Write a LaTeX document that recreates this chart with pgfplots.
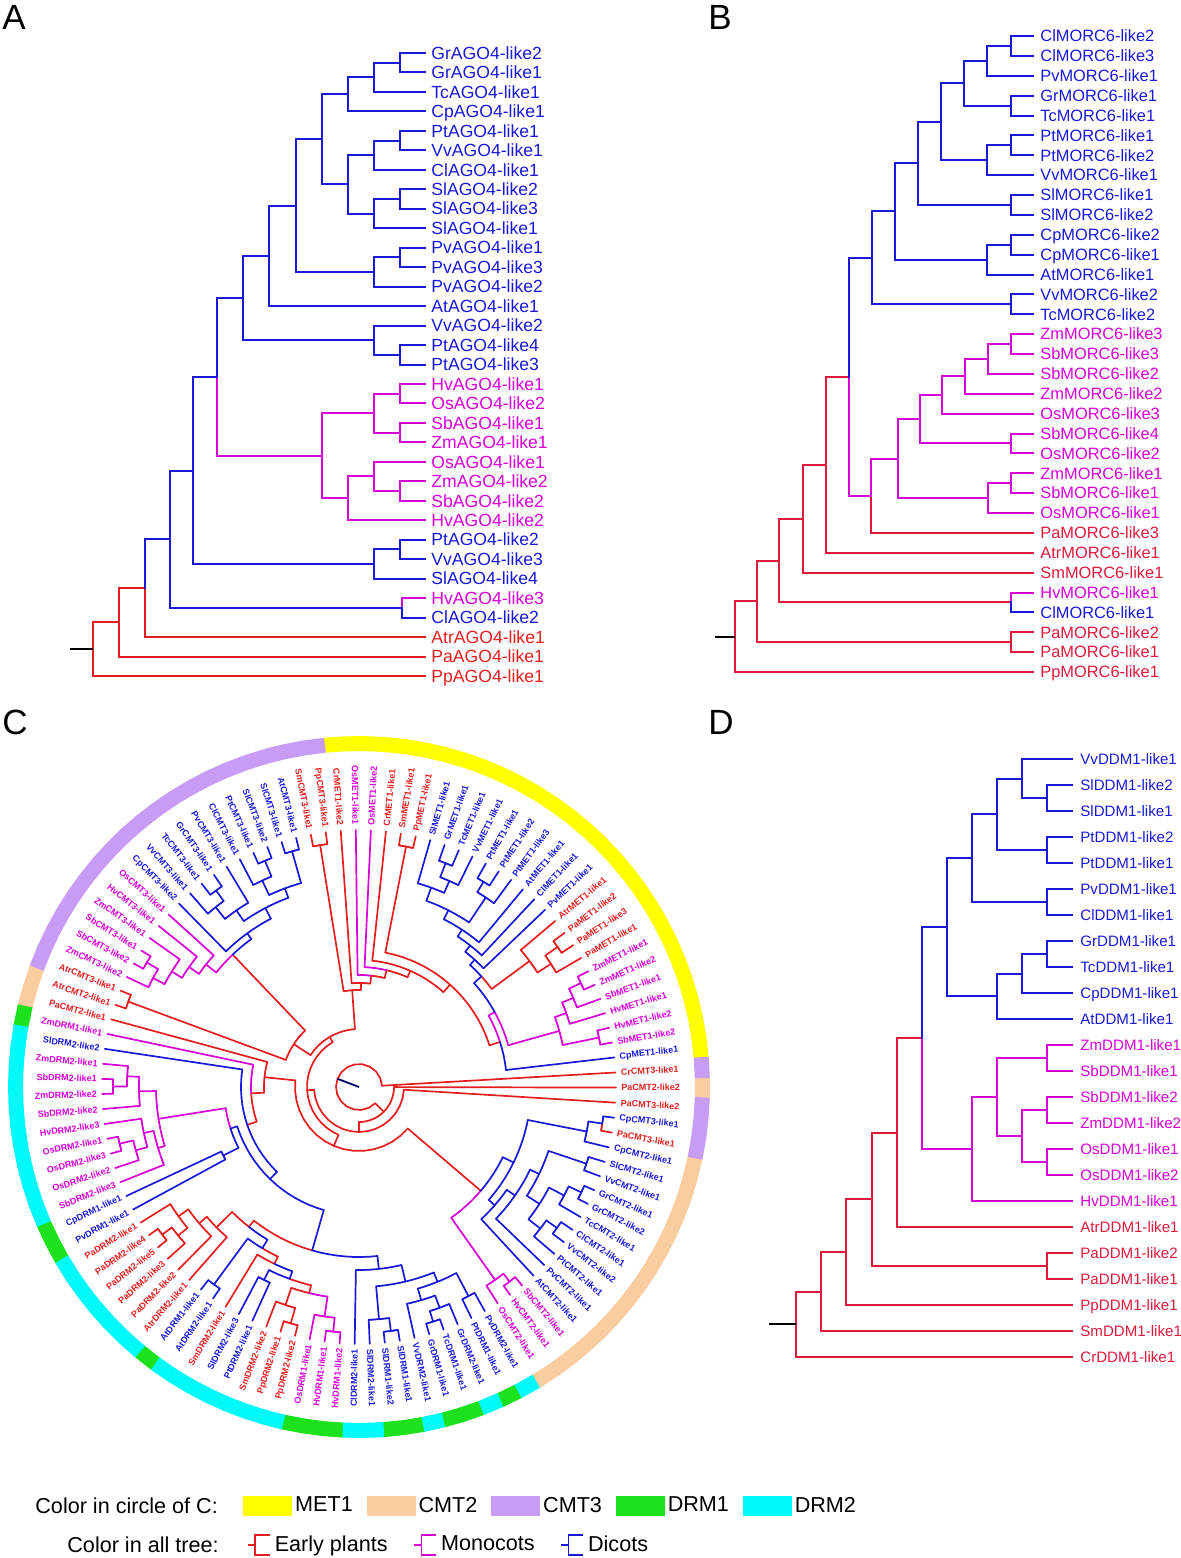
\documentclass[border=0pt]{standalone}
\usepackage{fontspec}
\setmainfont{Liberation Sans}
\usepackage{pgfplots}
\usepackage{pgfplotstable}
\pgfplotsset{compat=1.18}

\definecolor{tblue}{RGB}{25,25,215}
\definecolor{tmag}{RGB}{215,0,215}
\definecolor{tred}{RGB}{228,30,30}
\definecolor{tcrim}{RGB}{222,25,60}
\definecolor{rMET}{RGB}{255,255,0}
\definecolor{rCMTtwo}{RGB}{250,205,160}
\definecolor{rCMTthree}{RGB}{200,155,245}
\definecolor{rDRMone}{RGB}{30,225,30}
\definecolor{rDRMtwo}{RGB}{0,250,250}

% ---------- Tree A (AGO4): child pos, parent pos, parent depth, child depth, colour class
\pgfplotstableread{
pc pp rp rc c
1 1.5 400 425 2
2 1.5 400 425 2
3 2.25 374 425 2
1.5 2.25 374 400 2
2.25 3.125 347.7 374 2
4 3.125 347.7 425 2
5.5 6.25 374 400 2
5 5.5 400 425 2
6 5.5 400 425 2
7 6.25 374 425 2
6.25 7.75 347.7 374 2
8.5 9.25 374 400 2
8 8.5 400 425 2
9 8.5 400 425 2
10 9.25 374 425 2
9.25 7.75 347.7 374 2
3.125 5.4375 321.7 347.7 2
7.75 5.4375 321.7 347.7 2
5.4375 8.84375 295.7 321.7 2
11.5 12.25 374 400 2
11 11.5 400 425 2
12 11.5 400 425 2
13 12.25 374 425 2
12.25 8.84375 295.7 374 2
8.84375 11.421875 269.3 295.7 2
14 11.421875 269.3 425 2
11.421875 13.5859 243.3 269.3 2
15 15.75 374 425 2
16.5 15.75 374 400 2
16 16.5 400 425 2
17 16.5 400 425 2
15.75 13.5859 243.3 374 2
13.5859 17.6367 217 243.3 2
18 18.5 400 425 1
19 18.5 400 425 1
20 20.5 400 425 1
21 20.5 400 425 1
18.5 19.5 374 400 1
20.5 19.5 374 400 1
19.5 21.6875 322 374 1
22 22.75 374 425 1
23 23.5 400 425 1
24 23.5 400 425 1
23.5 22.75 374 400 1
22.75 23.875 348 374 1
25 23.875 348 425 1
23.875 21.6875 322 348 1
21.6875 17.6367 217 322 1
17.6367 22.4434 192.7 217 2
26 26.5 400 425 2
27 26.5 400 425 2
26.5 27.25 374 400 2
28 27.25 374 425 2
27.25 22.4434 192.7 374 2
22.4434 25.9717 170 192.7 2
29 29.5 402 425 1
30 29.5 402 425 2
29.5 25.9717 170 402 2
25.9717 28.4858 145.3 170 2
31 28.4858 145.3 425 0
28.4858 30.2429 119.3 145.3 0
32 30.2429 119.3 425 0
30.2429 31.6215 93 119.3 0
33 31.6215 93 425 0
}\Aedges

\pgfplotstableread{
i c label
1 2 GrAGO4-like2
2 2 GrAGO4-like1
3 2 TcAGO4-like1
4 2 CpAGO4-like1
5 2 PtAGO4-like1
6 2 VvAGO4-like1
7 2 ClAGO4-like1
8 2 SlAGO4-like2
9 2 SlAGO4-like3
10 2 SlAGO4-like1
11 2 PvAGO4-like1
12 2 PvAGO4-like3
13 2 PvAGO4-like2
14 2 AtAGO4-like1
15 2 VvAGO4-like2
16 2 PtAGO4-like4
17 2 PtAGO4-like3
18 1 HvAGO4-like1
19 1 OsAGO4-like2
20 1 SbAGO4-like1
21 1 ZmAGO4-like1
22 1 OsAGO4-like1
23 1 ZmAGO4-like2
24 1 SbAGO4-like2
25 1 HvAGO4-like2
26 2 PtAGO4-like2
27 2 VvAGO4-like3
28 2 SlAGO4-like4
29 1 HvAGO4-like3
30 2 ClAGO4-like2
31 0 AtrAGO4-like1
32 0 PaAGO4-like1
33 0 PpAGO4-like1
}\Alabels

% ---------- Tree B (MORC6)
\pgfplotstableread{
pc pp rp rc c
1 1.5 1010.7 1033 2
2 1.5 1010.7 1033 2
1.5 2.25 987.3 1010.7 2
3 2.25 987.3 1033 2
2.25 3.375 964.3 987.3 2
4 4.5 1010.7 1033 2
5 4.5 1010.7 1033 2
4.5 3.375 964.3 1010.7 2
3.375 5.3125 941 964.3 2
6 6.5 1010.7 1033 2
7 6.5 1010.7 1033 2
6.5 7.25 987.3 1010.7 2
8 7.25 987.3 1033 2
7.25 5.3125 941 987.3 2
5.3125 7.40625 918.3 941 2
9 9.5 1010.7 1033 2
10 9.5 1010.7 1033 2
9.5 7.40625 918.3 1010.7 2
7.40625 9.828125 895.3 918.3 2
11 11.5 1010.7 1033 2
12 11.5 1010.7 1033 2
11.5 12.25 987.3 1010.7 2
13 12.25 987.3 1033 2
12.25 9.828125 895.3 987.3 2
9.828125 12.1640625 872.3 895.3 2
14 14.5 1010.7 1033 2
15 14.5 1010.7 1033 2
14.5 12.1640625 872.3 1010.7 2
12.1640625 18.1484 849 872.3 2
16 16.5 1011 1033 1
17 16.5 1011 1033 1
16.5 17.25 988 1011 1
18 17.25 988 1033 1
17.25 18.125 965 988 1
19 18.125 965 1033 1
18.125 19.0625 942 965 1
20 19.0625 942 1033 1
19.0625 20.28125 920 942 1
21 21.5 1011 1033 1
22 21.5 1011 1033 1
21.5 20.28125 920 1011 1
20.28125 22.265625 898 920 1
23 23.5 1011 1033 1
24 23.5 1011 1033 1
23.5 24.25 988 1011 1
25 24.25 988 1033 1
24.25 22.265625 898 988 1
22.265625 24.1328 871.3 898 1
26 24.1328 871.3 1033 0
24.1328 18.1484 849 871.3 1
18.1484 22.5742 826 849 0
27 22.5742 826 1033 0
22.5742 25.2871 803 826 0
28 25.2871 803 1033 0
25.2871 27.3936 779.3 803 0
29 29.5 1011 1033 1
30 29.5 1011 1033 2
29.5 27.3936 779.3 1011 0
27.3936 29.4468 756.7 779.3 0
31 31.5 1011 1033 0
32 31.5 1011 1033 0
31.5 29.4468 756.7 1011 0
29.4468 31.2234 735 756.7 0
33 31.2234 735 1033 0
}\Bedges

\pgfplotstableread{
i c label
1 2 ClMORC6-like2
2 2 ClMORC6-like3
3 2 PvMORC6-like1
4 2 GrMORC6-like1
5 2 TcMORC6-like1
6 2 PtMORC6-like1
7 2 PtMORC6-like2
8 2 VvMORC6-like1
9 2 SlMORC6-like1
10 2 SlMORC6-like2
11 2 CpMORC6-like2
12 2 CpMORC6-like1
13 2 AtMORC6-like1
14 2 VvMORC6-like2
15 2 TcMORC6-like2
16 1 ZmMORC6-like3
17 1 SbMORC6-like3
18 1 SbMORC6-like2
19 1 ZmMORC6-like2
20 1 OsMORC6-like3
21 1 SbMORC6-like4
22 1 OsMORC6-like2
23 1 ZmMORC6-like1
24 1 SbMORC6-like1
25 1 OsMORC6-like1
26 0 PaMORC6-like3
27 0 AtrMORC6-like1
28 0 SmMORC6-like1
29 1 HvMORC6-like1
30 2 ClMORC6-like1
31 0 PaMORC6-like2
32 0 PaMORC6-like1
33 0 PpMORC6-like1
}\Blabels

% ---------- Tree D (DDM1)
\pgfplotstableread{
pc pp rp rc c
1 1.75 1022 1072 2
2 2.5 1046.7 1072 2
3 2.5 1046.7 1072 2
2.5 1.75 1022 1046.7 2
1.75 3.125 997 1022 2
4 4.5 1046.7 1072 2
5 4.5 1046.7 1072 2
4.5 3.125 997 1046.7 2
3.125 4.8125 972 997 2
6 6.5 1046.7 1072 2
7 6.5 1046.7 1072 2
6.5 4.8125 972 1046.7 2
4.8125 7.46875 946.7 972 2
8 8.5 1046.7 1072 2
9 8.5 1046.7 1072 2
8.5 9.25 1022 1046.7 2
10 9.25 1022 1072 2
9.25 10.125 997 1022 2
11 10.125 997 1072 2
10.125 7.46875 946.7 997 2
7.46875 11.734375 921.7 946.7 2
12 12.5 1046.7 1072 1
13 12.5 1046.7 1072 1
12.5 14 997 1046.7 1
14 14.5 1046.7 1072 1
15 14.5 1046.7 1072 1
14.5 15.5 1022 1046.7 1
16 16.5 1046.7 1072 1
17 16.5 1046.7 1072 1
16.5 15.5 1022 1046.7 1
15.5 14 997 1022 1
14 16 972 997 1
18 16 972 1072 1
16 11.734375 921.7 972 1
11.734375 15.3671875 896.7 921.7 0
19 15.3671875 896.7 1072 0
15.3671875 17.93359 871.7 896.7 0
20 20.5 1046.7 1072 0
21 20.5 1046.7 1072 0
20.5 17.93359 871.7 1046.7 0
17.93359 19.9668 846 871.7 0
22 19.9668 846 1072 0
19.9668 21.4834 821 846 0
23 21.4834 821 1072 0
21.4834 22.7417 795.7 821 0
24 22.7417 795.7 1072 0
}\Dedges

\pgfplotstableread{
i c label
1 2 VvDDM1-like1
2 2 SlDDM1-like2
3 2 SlDDM1-like1
4 2 PtDDM1-like2
5 2 PtDDM1-like1
6 2 PvDDM1-like1
7 2 ClDDM1-like1
8 2 GrDDM1-like1
9 2 TcDDM1-like1
10 2 CpDDM1-like1
11 2 AtDDM1-like1
12 1 ZmDDM1-like1
13 1 SbDDM1-like1
14 1 SbDDM1-like2
15 1 ZmDDM1-like2
16 1 OsDDM1-like1
17 1 OsDDM1-like2
18 1 HvDDM1-like1
19 0 AtrDDM1-like1
20 0 PaDDM1-like2
21 0 PaDDM1-like1
22 0 PpDDM1-like1
23 0 SmDDM1-like1
24 0 CrDDM1-like1
}\Dlabels

% ---------- Tree C (circular): positions in leaf steps, radii in px
\pgfplotstableread{
pc pp rp rc c
-1 45.33 23 257 0
0 3.3095 148 257 2
1 1.5 245 257 1
2 1.5 245 257 1
3 3.875 220 257 1
4 4.75 232 257 1
5 5.5 245 257 1
6 5.5 245 257 1
7 7.75 228 257 0
8 8.5 243 257 0
9 8.5 243 257 0
10 8.875 212 257 0
11 12.227 172 257 2
12 13.453 180 257 2
13 14.906 188 257 2
14 14.75 228 257 2
15 15.5 240 257 2
16 15.5 240 257 2
17 17.75 225 257 2
18 18.5 240 257 2
19 18.5 240 257 2
20 18.875 212 257 2
21 21.5 245 257 0
22 21.5 245 257 0
23 17.70 127 257 0
24 20.85 120 257 1
25 22.93 112 257 1
26 24.46 104 257 0
27 27.5 245 257 0
28 27.5 245 257 0
29 29.5 245 257 2
30 29.5 245 257 2
31 31.5 245 257 2
32 31.5 245 257 2
33 32.25 228 257 2
34 35.125 215 257 2
35 35.5 243 257 2
36 35.5 243 257 2
37 36.25 230 257 2
38 35.5 190 257 2
39 40.03 196 257 1
40 41.0625 208 257 1
41 42.125 220 257 1
42 42.5 246 257 1
43 42.5 246 257 1
44 43.25 233 257 1
45 45.5 246 257 0
46 45.5 246 257 0
47 49.775 95 257 0
48 52.55 108 257 1
49 57.1 118 257 2
50 50.75 232 257 1
51 51.5 246 257 1
52 51.5 246 257 1
53 51.875 220 257 1
54 55.125 220 257 1
55 55.5 246 257 1
56 55.5 246 257 1
57 56.25 232 257 1
58 56.5625 210 257 1
59 59.5 152 257 2
60 59.5 152 257 2
61 62.125 222 257 0
62 62.5 246 257 0
63 62.5 246 257 0
64 63.25 234 257 0
65 63.5625 210 257 0
66 64.781 200 257 0
67 67.5 245 257 2
68 67.5 245 257 2
69 70.6875 196 257 0
70 70.5 215 257 2
71 70.5 215 257 2
72 72.75 230 257 0
73 73.5 246 257 0
74 73.5 246 257 0
75 75.75 232 257 1
76 76.5 246 257 1
77 76.5 246 257 1
78 80.14 183 257 2
79 79.75 233 257 2
80 80.5 246 257 2
81 80.5 246 257 2
82 83.125 222 257 2
83 83.5 246 257 2
84 83.5 246 257 2
85 84.25 235 257 2
86 86.5 236 257 2
87 86.5 236 257 2
88 88.75 236 257 1
89 89.5 246 257 1
90 89.5 246 257 1
91 92.84 180 257 2
92 94.6875 190 257 2
93 93.75 230 257 2
94 94.5 243 257 2
95 94.5 243 257 2
96 96.75 232 257 2
97 97.5 246 257 2
98 97.5 246 257 2
99 99.5 240 257 2
100 99.5 240 257 2
101 101.75 232 257 2
102 102.5 246 257 0
103 102.5 246 257 2
104 78.3 45 257 0
105 91.65 35 257 0
1.5 2.6875 208 245 1
5.5 4.75 232 245 1
4.75 3.875 220 232 1
3.875 2.6875 208 220 1
2.6875 6.619 155 208 1
8.5 7.75 228 243 0
7.75 8.875 212 228 0
8.875 10.551 165 212 0
18.5 17.75 225 240 2
17.75 18.875 212 225 2
18.875 16.8125 198 212 2
15.5 14.75 228 240 2
14.75 16.8125 198 228 2
16.8125 14.906 188 198 2
14.906 13.453 180 188 2
13.453 12.227 172 180 2
12.227 10.551 165 172 2
10.551 6.619 155 165 2
6.619 3.3095 148 155 1
3.3095 12.405 137 148 0
21.5 12.405 137 245 0
12.405 17.70 127 137 0
17.70 20.85 120 127 0
20.85 22.93 112 120 0
22.93 24.46 104 112 0
24.46 25.98 97 104 0
27.5 25.98 97 245 0
25.98 33.81 58 97 0
29.5 30.875 212 245 2
31.5 32.25 228 245 2
32.25 30.875 212 228 2
30.875 33.0 202 212 2
35.5 36.25 230 243 2
36.25 35.125 215 230 2
35.125 33.0 202 215 2
33.0 35.5 190 202 2
35.5 37.766 183 190 2
42.5 43.25 233 246 1
43.25 42.125 220 233 1
42.125 41.0625 208 220 1
41.0625 40.03 196 208 1
40.03 37.766 183 196 1
37.766 41.633 78 183 0
45.5 41.633 78 246 0
41.633 33.81 58 78 0
33.81 52.6 52 58 0
51.5 50.75 232 246 1
50.75 51.875 220 232 1
51.875 54.219 203 220 1
55.5 56.25 232 246 1
56.25 55.125 220 232 1
55.125 56.5625 210 220 1
56.5625 54.219 203 210 1
54.219 56.859 135 203 1
59.5 56.859 135 152 2
56.859 65.199 128 135 2
62.5 63.25 234 246 0
63.25 62.125 222 234 0
62.125 63.5625 210 222 0
63.5625 64.781 200 210 0
64.781 66.9375 178 200 0
67.5 69.094 188 245 2
70.5 72.375 204 215 2
73.5 72.75 230 246 0
72.75 74.25 212 230 0
76.5 75.75 232 246 1
75.75 74.25 212 232 1
74.25 72.375 204 212 0
72.375 70.6875 196 204 2
70.6875 69.094 188 196 0
69.094 66.9375 178 188 2
66.9375 73.539 170 178 0
80.5 79.75 233 246 2
79.75 82.28 200 233 2
83.5 84.25 235 246 2
84.25 83.125 222 235 2
83.125 84.8125 210 222 2
86.5 84.8125 210 236 2
84.8125 82.28 200 210 2
82.28 80.14 183 200 2
80.14 73.539 170 183 2
73.539 65.199 128 170 2
65.199 57.1 118 128 2
57.1 52.55 108 118 0
52.55 49.775 95 108 0
49.775 71.40 64 95 0
89.5 88.75 236 246 1
88.75 93.02 160 236 1
97.5 96.75 232 246 2
96.75 95.25 215 232 2
94.5 93.75 230 243 2
93.75 95.25 215 230 2
95.25 97.375 200 215 2
99.5 97.375 200 240 2
97.375 94.6875 190 200 2
94.6875 92.84 180 190 2
92.84 97.3 172 180 2
102.5 101.75 232 246 2
101.75 97.3 172 232 2
97.3 93.02 160 172 2
93.02 71.40 64 160 0
71.40 52.6 52 64 0
52.6 78.3 45 52 0
78.3 91.65 35 45 0
91.65 45.33 23 35 0
}\Cedges

% leaves of C: position, label colour, ring class (1 MET1, 2 CMT2, 3 CMT3, 4 DRM1, 5 DRM2), side
\pgfplotstableread{
p c g s label
-1 0 3 0 CrCMT3-like1
0 2 1 0 CpMET1-like1
1 1 1 0 SbMET1-like2
2 1 1 0 HvMET1-like2
3 1 1 0 HvMET1-like1
4 1 1 0 SbMET1-like1
5 1 1 0 ZmMET1-like2
6 1 1 0 ZmMET1-like1
7 0 1 0 PaMET1-like1
8 0 1 0 PaMET1-like3
9 0 1 0 PaMET1-like2
10 0 1 0 AtrMET1-like1
11 2 1 0 PvMET1-like1
12 2 1 0 ClMET1-like1
13 2 1 0 AtMET1-like1
14 2 1 0 PtMET1-like3
15 2 1 0 PtMET1-like2
16 2 1 0 PtMET1-like1
17 2 1 0 VvMET1-like1
18 2 1 0 TcMET1-like1
19 2 1 0 GrMET1-like1
20 2 1 0 SlMET1-like1
21 0 1 0 PpMET1-like1
22 0 1 0 SmMET1-like1
23 0 1 0 CrMET1-like1
24 1 1 0 OsMET1-like2
25 1 1 1 OsMET1-like1
26 0 1 1 CrMET1-like2
27 0 3 1 PpCMT3-like1
28 0 3 1 SmCMT3-like1
29 2 3 1 AtCMT3-like1
30 2 3 1 SlCMT3-like1
31 2 3 1 SlCMT3-like2
32 2 3 1 PtCMT3-like1
33 2 3 1 ClCMT3-like1
34 2 3 1 PvCMT3-like1
35 2 3 1 GrCMT3-like1
36 2 3 1 TcCMT3-like1
37 2 3 1 VvCMT3-like1
38 2 3 1 CpCMT3-like2
39 1 3 1 OsCMT3-like1
40 1 3 1 HvCMT3-like1
41 1 3 1 ZmCMT3-like1
42 1 3 1 SbCMT3-like1
43 1 3 1 SbCMT3-like2
44 1 3 1 ZmCMT3-like2
45 0 3 1 AtrCMT3-like1
46 0 2 1 AtrCMT2-like1
47 0 2 1 PaCMT2-like1
48 1 4 1 ZmDRM1-like1
49 2 5 1 SlDRM2-like2
50 1 5 1 ZmDRM2-like1
51 1 5 1 SbDRM2-like1
52 1 5 1 ZmDRM2-like2
53 1 5 1 SbDRM2-like2
54 1 5 1 HvDRM2-like3
55 1 5 1 OsDRM2-like1
56 1 5 1 OsDRM2-like3
57 1 5 1 OsDRM2-like2
58 1 5 1 SbDRM2-like3
59 2 4 1 CpDRM1-like1
60 2 4 1 PvDRM1-like1
61 0 5 1 PaDRM2-like1
62 0 5 1 PaDRM2-like4
63 0 5 1 PaDRM2-like5
64 0 5 1 PaDRM2-like3
65 0 5 1 PaDRM2-like2
66 0 5 1 AtrDRM2-like1
67 2 4 1 AtDRM1-like1
68 2 5 1 AtDRM2-like1
69 0 5 1 SmDRM2-like1
70 2 5 1 SlDRM2-like3
71 2 5 1 PtDRM2-like1
72 0 5 1 SmDRM2-like2
73 0 5 1 PpDRM2-like1
74 0 5 1 PpDRM2-like2
75 1 4 1 OsDRM1-like1
76 1 4 1 HvDRM1-like1
77 1 4 1 HvDRM1-like2
78 2 5 1 ClDRM2-like1
79 2 5 0 SlDRM2-like1
80 2 4 0 SlDRM1-like2
81 2 4 0 SlDRM1-like1
82 2 5 0 VvDRM2-like1
83 2 4 0 GrDRM1-like1
84 2 4 0 TcDRM1-like1
85 2 5 0 GrDRM2-like1
86 2 4 0 PtDRM1-like1
87 2 5 0 PvDRM2-like1
88 1 2 0 OsCMT2-like1
89 1 2 0 HvCMT2-like1
90 1 2 0 SbCMT2-like1
91 2 2 0 AtCMT2-like1
92 2 2 0 PvCMT2-like1
93 2 2 0 PtCMT2-like1
94 2 2 0 VvCMT2-like2
95 2 2 0 ClCMT2-like1
96 2 2 0 TcCMT2-like1
97 2 2 0 GrCMT2-like2
98 2 2 0 GrCMT2-like1
99 2 2 0 VvCMT2-like1
100 2 2 0 SlCMT2-like1
101 2 2 0 CpCMT2-like1
102 0 3 0 PaCMT3-like1
103 2 3 0 CpCMT3-like1
104 0 3 0 PaCMT3-like2
105 0 2 0 PaCMT2-like2
}\Cleaves

% ---------- drawing helpers
\newcommand{\rtreecol}[4]{% table, colour, width, domain
  \addplot[#2, line width=#3, line cap=rect, restrict expr to domain={\thisrow{c}}{#4},
    quiver={u=0, v=\thisrow{pc}-\thisrow{pp}}] table[x=rp, y=pp] {#1};
  \addplot[#2, line width=#3, line cap=rect, restrict expr to domain={\thisrow{c}}{#4},
    quiver={u=\thisrow{rc}-\thisrow{rp}, v=0}] table[x=rp, y=pc] {#1};
}
\newcommand{\rtree}[3]{% table, red colour, width
  \rtreecol{#1}{#2}{#3}{-0.5:0.5}
  \rtreecol{#1}{tmag}{#3}{0.5:1.5}
  \rtreecol{#1}{tblue}{#3}{1.5:2.5}
}
\newcommand{\rlabcol}[6]{% table, x, font, colour, yshift, domain
  \addplot[draw=none, mark=none, restrict expr to domain={\thisrow{c}}{#6},
    nodes near coords, point meta=explicit symbolic,
    nodes near coords style={anchor=base west, inner sep=0pt, yshift=#5, font=#3, text=#4}]
    table[x expr=#2, y=i, meta=label] {#1};
}
\newcommand{\rlabels}[5]{%
  \rlabcol{#1}{#2}{#3}{#4}{#5}{-0.5:0.5}
  \rlabcol{#1}{#2}{#3}{tmag}{#5}{0.5:1.5}
  \rlabcol{#1}{#2}{#3}{tblue}{#5}{1.5:2.5}
}
\newcommand{\Tpc}{(6.6+3.3645*\thisrow{pc})}
\newcommand{\Aang}[1]{(6.6+3.3645*(\thisrow{pp}+(#1)*(\thisrow{pc}-\thisrow{pp})/8))}
\newcommand{\ctree}[2]{% colour, domain
  \addplot[#1, line width=0.85pt, line cap=round, restrict expr to domain={\thisrow{c}}{#2},
    quiver={u={(\thisrow{rc}-\thisrow{rp})*cos(\Tpc)}, v={(\thisrow{rc}-\thisrow{rp})*sin(\Tpc)}}]
    table[x expr={\thisrow{rp}*cos(\Tpc)}, y expr={\thisrow{rp}*sin(\Tpc)}] {\Cedges};
  \pgfplotsinvokeforeach{0,...,7}{
    \addplot[#1, line width=0.85pt, line cap=round, restrict expr to domain={\thisrow{c}}{#2},
      quiver={u={\thisrow{rp}*(cos(\Aang{##1+1})-cos(\Aang{##1}))}, v={\thisrow{rp}*(sin(\Aang{##1+1})-sin(\Aang{##1}))}}]
      table[x expr={\thisrow{rp}*cos(\Aang{##1})}, y expr={\thisrow{rp}*sin(\Aang{##1})}] {\Cedges};
  }
}
\newcommand{\cring}[2]{% colour, class domain
  \addplot[#1, line width=7.5pt, restrict expr to domain={\thisrow{g}}{#2},
    quiver={u={343.5*(cos(6.6+3.3645*(\thisrow{p}+0.52))-cos(6.6+3.3645*(\thisrow{p}-0.52)))},
            v={343.5*(sin(6.6+3.3645*(\thisrow{p}+0.52))-sin(6.6+3.3645*(\thisrow{p}-0.52)))}}]
    table[x expr={343.5*cos(6.6+3.3645*(\thisrow{p}-0.52))}, y expr={343.5*sin(6.6+3.3645*(\thisrow{p}-0.52))}] {\Cleaves};
}
\newcommand{\clabfont}{\fontsize{4.5}{5}\selectfont\bfseries}
\newcommand{\clab}[4]{% colour, domain (c+10 s), anchor, rotation offset
  \addplot[draw=none, mark=none, restrict expr to domain={\thisrow{c}+10*\thisrow{s}}{#2},
    visualization depends on={6.6+3.3645*\thisrow{p}+#4 \as \rot},
    nodes near coords, point meta=explicit symbolic,
    nodes near coords style={anchor=#3, rotate=\rot, inner sep=0pt, font=\clabfont, text=#1}]
    table[x expr={262*cos(6.6+3.3645*\thisrow{p})}, y expr={262*sin(6.6+3.3645*\thisrow{p})}, meta=label] {\Cleaves};
}

\begin{document}
\begin{tikzpicture}
\path[use as bounding box] (0pt,0pt) rectangle (590.5pt,-779pt);

% Panel letters
\node[anchor=north west, inner sep=0pt, font=\fontsize{17.5}{18}\selectfont] at (1pt,-2.5pt) {A};
\node[anchor=north west, inner sep=0pt, font=\fontsize{17.5}{18}\selectfont] at (354pt,-2.5pt) {B};
\node[anchor=north west, inner sep=0pt, font=\fontsize{17.5}{18}\selectfont] at (1pt,-355pt) {C};
\node[anchor=north west, inner sep=0pt, font=\fontsize{17.5}{18}\selectfont] at (354pt,-355pt) {D};

% ---------------- A
\begin{axis}[at={(30pt,-21.63pt)}, anchor=north west, x=0.5pt, y=9.735pt, y dir=reverse,
  xmin=60, xmax=440, ymin=0.5, ymax=33.5, hide axis, clip=false]
\rtree{\Aedges}{tred}{1pt}
\addplot[black, line width=1pt] coordinates {(70,31.6215) (93,31.6215)};
\rlabels{\Alabels}{431}{\fontsize{8.8}{10}\selectfont}{tred}{-3.1pt}
\end{axis}

% ---------------- B
\begin{axis}[at={(350pt,-13.03pt)}, anchor=north west, x=0.5pt, y=9.9375pt, y dir=reverse,
  xmin=700, xmax=1040, ymin=0.5, ymax=33.5, hide axis, clip=false]
\rtree{\Bedges}{tcrim}{1pt}
\addplot[black, line width=1pt] coordinates {(715,31.2234) (735,31.2234)};
\rlabels{\Blabels}{1040}{\fontsize{8.2}{9}\selectfont}{tcrim}{-2.9pt}
\end{axis}

% ---------------- D
\begin{axis}[at={(380pt,-373pt)}, anchor=north west, x=0.5pt, y=13pt, y dir=reverse,
  xmin=760, xmax=1080, ymin=0.5, ymax=24.5, hide axis, clip=false]
\rtree{\Dedges}{tcrim}{1pt}
\addplot[black, line width=1pt] coordinates {(769,22.7417) (795.7,22.7417)};
\rlabels{\Dlabels}{1080}{\fontsize{7.55}{9}\selectfont}{tcrim}{-2.7pt}
\end{axis}

% ---------------- C
\begin{axis}[at={(179.5pt,-543.5pt)}, anchor=center, x=0.5pt, y=0.5pt,
  xmin=-360, xmax=360, ymin=-360, ymax=360, hide axis, clip=false]
\ctree{tred}{-0.5:0.5}
\ctree{tmag}{0.5:1.5}
\ctree{tblue}{1.5:2.5}
\addplot[black!60!blue, line width=0.9pt] coordinates {(0,0) (-21.49,8.2)};
\cring{rMET}{0.5:1.5}
\cring{rCMTtwo}{1.5:2.5}
\cring{rCMTthree}{2.5:3.5}
\cring{rDRMone}{3.5:4.5}
\cring{rDRMtwo}{4.5:5.5}
\clab{tred}{-0.5:0.5}{west}{0}
\clab{tmag}{0.5:1.5}{west}{0}
\clab{tblue}{1.5:2.5}{west}{0}
\clab{tred}{9.5:10.5}{east}{180}
\clab{tmag}{10.5:11.5}{east}{180}
\clab{tblue}{11.5:12.5}{east}{180}
\end{axis}

% ---------------- legends
\node[anchor=west, inner sep=0pt, font=\fontsize{10.8}{12}\selectfont] at (17.5pt,-753pt) {Color in circle of C:};
\node[anchor=west, inner sep=0pt, font=\fontsize{10.8}{12}\selectfont] at (33.5pt,-772.5pt) {Color in all tree:};

\begin{axis}[at={(121.5pt,-753pt)}, anchor=south west, x=1pt, y=1pt, xmin=0, xmax=1, ymin=0, ymax=1,
  hide axis, legend columns=-1,
  legend style={at={(0,0)}, anchor=west, draw=none, fill=none, inner sep=0pt,
    font=\fontsize{10.8}{12}\selectfont, nodes={inner sep=1.5pt},
    /tikz/every even column/.append style={column sep=5.5pt}}]
\addlegendimage{legend image code/.code={\fill[rMET] (0pt,-4.75pt) rectangle (24pt,4.75pt);}}
\addlegendentry{MET1}
\addlegendimage{legend image code/.code={\fill[rCMTtwo] (0pt,-4.75pt) rectangle (24pt,4.75pt);}}
\addlegendentry{CMT2}
\addlegendimage{legend image code/.code={\fill[rCMTthree] (0pt,-4.75pt) rectangle (24pt,4.75pt);}}
\addlegendentry{CMT3}
\addlegendimage{legend image code/.code={\fill[rDRMone] (0pt,-4.75pt) rectangle (24pt,4.75pt);}}
\addlegendentry{DRM1}
\addlegendimage{legend image code/.code={\fill[rDRMtwo] (0pt,-4.75pt) rectangle (24pt,4.75pt);}}
\addlegendentry{DRM2}
\end{axis}

\begin{axis}[at={(123.5pt,-772.5pt)}, anchor=south west, x=1pt, y=1pt, xmin=0, xmax=1, ymin=0, ymax=1,
  hide axis, legend columns=-1,
  legend style={at={(0,0)}, anchor=west, draw=none, fill=none, inner sep=0pt,
    font=\fontsize{10.8}{12}\selectfont, nodes={inner sep=2pt},
    /tikz/every even column/.append style={column sep=11pt}}]
\addlegendimage{legend image code/.code={\draw[tred, line width=0.7pt] (0pt,0pt) -- (3.5pt,0pt) (11pt,5pt) -- (3.5pt,5pt) -- (3.5pt,-5pt) -- (11pt,-5pt);}}
\addlegendentry{Early plants}
\addlegendimage{legend image code/.code={\draw[tmag, line width=0.7pt] (0pt,0pt) -- (3.5pt,0pt) (11pt,5pt) -- (3.5pt,5pt) -- (3.5pt,-5pt) -- (11pt,-5pt);}}
\addlegendentry{Monocots}
\addlegendimage{legend image code/.code={\draw[tblue, line width=0.7pt] (0pt,0pt) -- (3.5pt,0pt) (11pt,5pt) -- (3.5pt,5pt) -- (3.5pt,-5pt) -- (11pt,-5pt);}}
\addlegendentry{Dicots}
\end{axis}
\end{tikzpicture}
\end{document}
